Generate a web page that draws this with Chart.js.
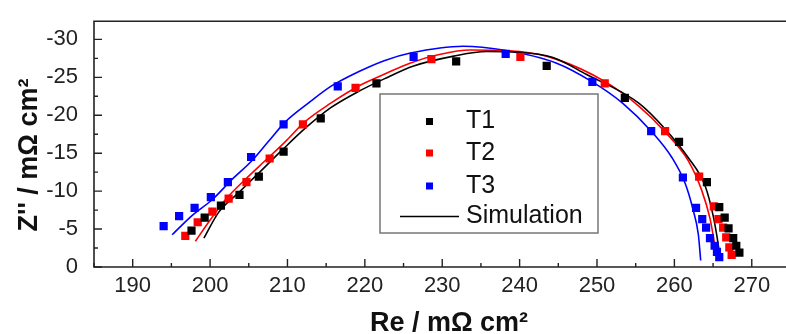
<!DOCTYPE html>
<html>
<head>
<meta charset="utf-8">
<script src="https://cdn.jsdelivr.net/npm/chart.js@4.4.1/dist/chart.umd.min.js"></script>
<style>
  body { margin: 0; background: #fff; overflow: hidden; }
  #wrap { width: 786px; height: 334px; overflow: hidden; }
</style>
</head>
<body>
<div id="wrap"><canvas id="nyquist" width="804" height="334"></canvas></div>
<script>
// measured points, Re in mOhm cm2 and Z'' in mOhm cm2
const t1Re = [197.6, 199.3, 201.4, 203.8, 206.3, 209.5, 214.3, 221.5, 231.8, 243.5, 253.6, 260.6, 264.2, 265.8, 266.5, 267.0, 267.6, 268.0, 268.4];
const t1Im = [-4.8, -6.5, -8.1, -9.5, -11.9, -15.2, -19.6, -24.2, -27.1, -26.5, -22.3, -16.5, -11.2, -7.9, -6.5, -5.1, -3.8, -2.8, -1.9];
const t2Re = [196.8, 198.4, 200.3, 202.4, 204.7, 207.7, 212.0, 218.8, 228.6, 240.1, 251.0, 258.8, 263.2, 265.1, 265.7, 266.3, 266.7, 267.1, 267.4];
const t2Im = [-4.1, -5.9, -7.3, -9.0, -11.2, -14.3, -18.8, -23.6, -27.4, -27.7, -24.2, -17.9, -11.9, -8.0, -6.3, -5.2, -3.9, -2.6, -1.6];
const t3Re = [194.0, 196.0, 198.0, 200.1, 202.3, 205.3, 209.5, 216.5, 226.3, 238.2, 249.4, 257.0, 261.1, 262.8, 263.6, 264.1, 264.6, 265.2, 265.5, 265.8];
const t3Im = [-5.4, -6.7, -7.8, -9.2, -11.2, -14.5, -18.8, -23.8, -27.7, -28.1, -24.4, -17.9, -11.8, -7.8, -6.3, -5.2, -3.8, -2.8, -2.0, -1.3];

// simulation curves
const sim1Re = [199.2, 201.1, 203.7, 206.2, 209.2, 212.2, 215.6, 219.1, 222.5, 226.3, 231.5, 235.7, 240.0, 244.3, 248.6, 255.4, 258.8, 261.8, 264.0, 265.0, 265.6, 265.8];
const sim1Im = [-3.8, -7.2, -9.8, -12.3, -15.3, -18.2, -21.0, -23.1, -24.8, -26.5, -27.8, -28.4, -28.3, -27.6, -25.4, -21.6, -18.2, -14.4, -10.6, -6.8, -3.4, -1.9];
const sim2Re = [198.1, 199.8, 202.0, 204.5, 207.1, 209.7, 212.2, 215.6, 219.1, 222.5, 225.9, 229.6, 233.6, 240.0, 244.7, 251.1, 255.4, 258.8, 261.8, 263.5, 264.6, 265.2, 265.4];
const sim2Im = [-3.4, -5.9, -8.9, -11.5, -14.0, -16.5, -19.1, -21.6, -23.8, -25.4, -26.9, -28.0, -28.6, -28.4, -27.4, -24.4, -21.2, -17.8, -14.0, -10.2, -6.4, -3.0, -1.7];
const sim3Re = [195.1, 197.7, 200.3, 202.8, 205.4, 207.5, 209.7, 212.7, 215.6, 219.1, 222.5, 225.9, 232.7, 237.9, 244.7, 249.4, 253.3, 257.1, 259.7, 261.4, 262.4, 263.1, 263.4];
const sim3Im = [-4.25, -6.8, -8.9, -11.5, -14.0, -16.5, -19.1, -21.6, -23.8, -25.7, -27.2, -28.2, -29.1, -28.6, -26.9, -24.4, -21.6, -17.8, -14.4, -11.0, -7.6, -4.25, -0.85];

const legendNames = ['T1', 'T2', 'T3', 'Simulation'];
const seriesColors = ['#000000', '#ff0000', '#0000ff'];

const xy = (xs, ys) => xs.map((x, i) => ({ x: x, y: ys[i] }));
const FONT = "'Liberation Sans', Arial, sans-serif";

function pointSet(label, xs, ys, color) {
    return {
        label: label,
        data: xy(xs, ys),
        showLine: false,
        pointStyle: 'rect',
        pointRadius: 5.8,
        borderWidth: 0,
        backgroundColor: color,
        borderColor: color,
    };
}

function simSet(xs, ys, color) {
    return {
        label: 'Simulation',
        data: xy(xs, ys),
        showLine: true,
        pointRadius: 0,
        borderWidth: 1.6,
        borderColor: color,
        cubicInterpolationMode: 'monotone',
    };
}

// frame, inward ticks, axis titles and the boxed legend
const frame = {
    id: 'frame',
    afterDraw(chart) {
        const c = chart.ctx;
        const a = chart.chartArea;
        const xs = chart.scales.x, ys = chart.scales.y;
        c.save();
        c.strokeStyle = '#222';
        c.lineWidth = 1.6;
        c.beginPath();
        c.moveTo(a.right, a.top);
        c.lineTo(a.left, a.top);
        c.lineTo(a.left, a.bottom);
        c.lineTo(a.right, a.bottom);
        c.stroke();

        c.lineWidth = 1.4;
        c.beginPath();
        for (let v = 185; v <= 276; v += 5) {
            const px = xs.getPixelForValue(v);
            const len = v % 10 === 0 ? 8 : 4;
            c.moveTo(px, a.bottom);
            c.lineTo(px, a.bottom - len);
        }
        for (let v = 0; v >= -32.4; v -= 2.5) {
            const py = ys.getPixelForValue(v);
            const len = v % 5 === 0 ? 8 : 4;
            c.moveTo(a.left, py);
            c.lineTo(a.left + len, py);
        }
        c.stroke();

        // axis titles
        c.fillStyle = '#111';
        c.font = 'bold 27px ' + FONT;
        c.textAlign = 'center';
        c.textBaseline = 'alphabetic';
        c.fillText('Re / m\u03A9 cm\u00B2', 449, 331);
        c.save();
        c.translate(36.5, 155);
        c.rotate(-Math.PI / 2);
        c.fillText('Z\'\' / m\u03A9 cm\u00B2', 0, 0);
        c.restore();

        // legend
        c.fillStyle = '#fff';
        c.fillRect(380, 94, 218, 139);
        c.strokeStyle = '#777';
        c.lineWidth = 1.5;
        c.strokeRect(380, 94, 218, 139);
        c.font = '25px ' + FONT;
        c.textAlign = 'left';
        c.textBaseline = 'middle';
        const rows = [121.5, 153, 186, 216.5];
        for (let i = 0; i < 3; i++) {
            c.fillStyle = seriesColors[i];
            c.fillRect(426, rows[i] - 3.5, 7, 7);
            c.fillStyle = '#111';
            c.fillText(legendNames[i], 466, rows[i]);
        }
        c.strokeStyle = '#000';
        c.lineWidth = 1.6;
        c.beginPath();
        c.moveTo(400, rows[3]);
        c.lineTo(459, rows[3]);
        c.stroke();
        c.fillStyle = '#111';
        c.fillText(legendNames[3], 466, rows[3]);
        c.restore();
    },
};

const ctx = document.getElementById('nyquist').getContext('2d');
const nyquist = new Chart(ctx, {
    type: 'scatter',
    data: {
        datasets: [
            pointSet('T1', t1Re, t1Im, seriesColors[0]),
            pointSet('T2', t2Re, t2Im, seriesColors[1]),
            pointSet('T3', t3Re, t3Im, seriesColors[2]),
            simSet(sim1Re, sim1Im, seriesColors[0]),
            simSet(sim2Re, sim2Im, seriesColors[1]),
            simSet(sim3Re, sim3Im, seriesColors[2]),
        ],
    },
    options: {
        responsive: false,
        animation: false,
        layout: { padding: { top: 11, left: 0, right: 0, bottom: 0 } },
        plugins: { legend: { display: false }, tooltip: { enabled: false } },
        scales: {
            x: {
                type: 'linear',
                min: 185,
                max: 276,
                grid: { display: false },
                border: { display: false },
                ticks: {
                    stepSize: 10,
                    includeBounds: false,
                    maxRotation: 0,
                    autoSkip: false,
                    padding: -2,
                    color: '#222',
                    font: { family: FONT, size: 22 },
                },
                afterFit(s) { s.height = 67; },
            },
            y: {
                type: 'linear',
                reverse: true,
                min: -32.4,
                max: 0,
                grid: { display: false },
                border: { display: false },
                ticks: {
                    stepSize: 5,
                    includeBounds: false,
                    padding: 8,
                    color: '#222',
                    font: { family: FONT, size: 22 },
                },
                afterFit(s) { s.width = 94; },
            },
        },
    },
    plugins: [frame],
});
</script>
</body>
</html>
